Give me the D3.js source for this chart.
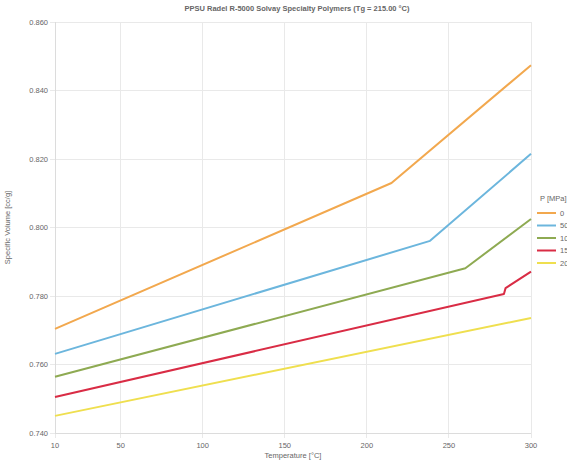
<!DOCTYPE html>
<html>
<head>
<meta charset="utf-8">
<script src="https://cdn.jsdelivr.net/npm/d3@7"></script>
<style>
  html, body { margin: 0; padding: 0; background: #fff; }
  svg { display: block; font-family: "Liberation Sans", Arial, sans-serif; }
</style>
</head>
<body>
<svg id="chart" width="567" height="463"></svg>
<script>
// PVT data: specific volume vs temperature at several pressures
const pressures = ["0", "50", "100", "150", "200"];
const colors = ["#f2a84e", "#6cb6dd", "#8eaa52", "#d92c45", "#efdf4f"];
const temps0 = [10, 215, 300];
const vols0 = [0.7704, 0.8130, 0.8474];
const temps50 = [10, 238.5, 300];
const vols50 = [0.7631, 0.7961, 0.8215];
const temps100 = [10, 260, 300];
const vols100 = [0.7564, 0.7881, 0.8025];
const temps150 = [10, 283.5, 284.5, 300];
const vols150 = [0.7505, 0.7806, 0.7823, 0.7871];
const temps200 = [10, 300];
const vols200 = [0.7450, 0.7736];

const xTicks = [10, 50, 100, 150, 200, 250, 300];
const yTicks = [0.74, 0.76, 0.78, 0.80, 0.82, 0.84, 0.86];

const series = [
  { t: temps0, v: vols0 },
  { t: temps50, v: vols50 },
  { t: temps100, v: vols100 },
  { t: temps150, v: vols150 },
  { t: temps200, v: vols200 }
].map((s, i) => ({
  name: pressures[i],
  color: colors[i],
  points: s.t.map((t, j) => ({ t, v: s.v[j] }))
}));

const svg = d3.select("#chart");
const plotL = 55, plotR = 531, plotT = 22, plotB = 433;

const x = d3.scaleLinear().domain([10, 300]).range([plotL, plotR]);
const y = d3.scaleLinear().domain([0.74, 0.86]).range([plotB, plotT]);

const gridColor = "#e9e9e9";
const textColor = "#666";

// grid lines (extend slightly past the axes as tick marks)
svg.append("g").selectAll("line").data(xTicks).join("line")
  .attr("x1", d => x(d)).attr("x2", d => x(d))
  .attr("y1", plotT).attr("y2", plotB + 5)
  .attr("stroke", gridColor).attr("stroke-width", 1)
  .attr("shape-rendering", "crispEdges");
svg.append("g").selectAll("line").data(yTicks).join("line")
  .attr("x1", plotL - 5).attr("x2", plotR)
  .attr("y1", d => y(d)).attr("y2", d => y(d))
  .attr("stroke", gridColor).attr("stroke-width", 1)
  .attr("shape-rendering", "crispEdges");

// axis lines
svg.append("line").attr("x1", plotL).attr("x2", plotL).attr("y1", plotT).attr("y2", plotB)
  .attr("stroke", "#dcdcdc").attr("shape-rendering", "crispEdges");
svg.append("line").attr("x1", plotL).attr("x2", plotR).attr("y1", plotB).attr("y2", plotB)
  .attr("stroke", "#dcdcdc").attr("shape-rendering", "crispEdges");

// tick labels
svg.append("g").selectAll("text").data(xTicks).join("text")
  .attr("x", d => x(d)).attr("y", plotB + 15)
  .attr("text-anchor", "middle").attr("font-size", 7.5).attr("fill", textColor)
  .text(d => d3.format("d")(d));
svg.append("g").selectAll("text").data(yTicks).join("text")
  .attr("x", plotL - 7).attr("y", d => y(d) + 2.5)
  .attr("text-anchor", "end").attr("font-size", 7.5).attr("fill", textColor)
  .text(d => d3.format(".3f")(d));

// axis titles
svg.append("text").attr("x", (plotL + plotR) / 2).attr("y", 458)
  .attr("text-anchor", "middle").attr("font-size", 7.5).attr("fill", textColor)
  .text("Temperature [°C]");
svg.append("text")
  .attr("transform", `translate(10,${(plotT + plotB) / 2}) rotate(-90)`)
  .attr("text-anchor", "middle").attr("font-size", 7.5).attr("fill", textColor)
  .text("Specific Volume [cc/g]");

// chart title
svg.append("text").attr("x", 297).attr("y", 11)
  .attr("text-anchor", "middle").attr("font-size", 7.5).attr("font-weight", "bold")
  .attr("fill", textColor)
  .text("PPSU Radel R-5000 Solvay Specialty Polymers (Tg = 215.00 °C)");

// lines
const line = d3.line().x(d => x(d.t)).y(d => y(d.v));
svg.append("g").selectAll("path").data(series).join("path")
  .attr("d", d => line(d.points))
  .attr("fill", "none")
  .attr("stroke", d => d.color)
  .attr("stroke-width", 2)
  .attr("stroke-linejoin", "round");

// legend
const legend = svg.append("g");
legend.append("text").attr("x", 540).attr("y", 201)
  .attr("font-size", 7.5).attr("fill", textColor).text("P [MPa]");
const items = legend.selectAll("g.item").data(series).join("g")
  .attr("class", "item")
  .attr("transform", (d, i) => `translate(0,${213 + i * 12.5})`);
items.append("line").attr("x1", 537).attr("x2", 556).attr("y1", 0).attr("y2", 0)
  .attr("stroke", d => d.color).attr("stroke-width", 2);
items.append("text").attr("x", 560).attr("y", 2.5)
  .attr("font-size", 7.5).attr("fill", textColor).text(d => d.name);
</script>
</body>
</html>
